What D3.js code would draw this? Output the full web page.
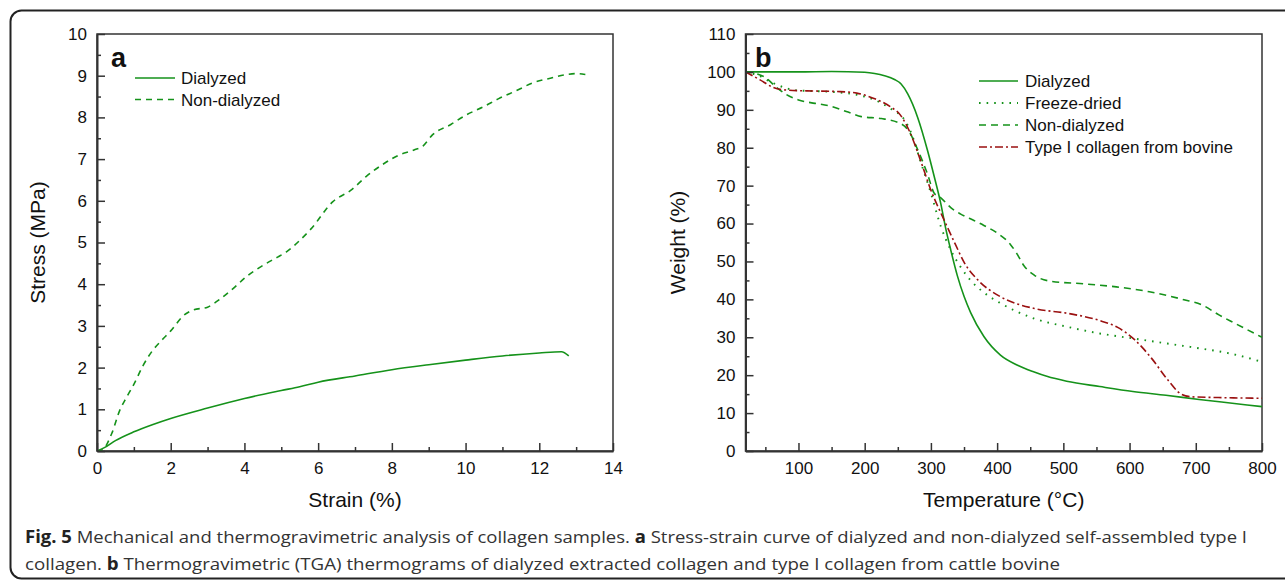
<!DOCTYPE html>
<html>
<head>
<meta charset="utf-8">
<script src="https://cdn.jsdelivr.net/npm/d3@7/dist/d3.min.js"></script>
<style>
  html, body { margin: 0; padding: 0; background: #fff; }
  svg { display: block; }
  .caption { font-family: "Open Sans", "Noto Sans", sans-serif; fill: #333; }
</style>
</head>
<body>
<svg id="fig" width="1285" height="582"></svg>
<script>
// ---- Panel a: stress-strain curves ----
const strainDialyzed = [0, 0.2, 0.5, 1.0, 1.5, 2.0, 3.0, 4.0, 5.0, 5.5, 6.0, 7.0, 8.0, 9.0, 10.0, 11.0, 12.0, 12.6, 12.8];
const stressDialyzed = [0, 0.08, 0.25, 0.46, 0.63, 0.78, 1.03, 1.26, 1.45, 1.54, 1.65, 1.80, 1.95, 2.07, 2.18, 2.28, 2.35, 2.38, 2.28];

const strainNonDialyzed = [0, 0.15, 0.4, 0.62, 0.81, 1.0, 1.25, 1.5, 1.75, 2.0, 2.35, 2.6, 3.0, 3.35, 3.7, 4.05, 4.5, 4.9, 5.15, 5.5, 5.8, 6.4, 6.9, 7.3, 7.8, 8.2, 8.6, 8.85, 9.1, 9.6, 10.0, 10.5, 10.9, 11.4, 11.8, 12.3, 12.75, 13.0, 13.25];
const stressNonDialyzed = [0, 0.03, 0.42, 0.98, 1.3, 1.6, 2.05, 2.4, 2.65, 2.88, 3.25, 3.38, 3.45, 3.65, 3.9, 4.18, 4.45, 4.65, 4.78, 5.05, 5.32, 5.98, 6.26, 6.58, 6.9, 7.1, 7.22, 7.32, 7.58, 7.83, 8.05, 8.26, 8.45, 8.65, 8.82, 8.94, 9.03, 9.05, 9.03];

const strainTicks = [0, 2, 4, 6, 8, 10, 12, 14];
const stressTicks = [0, 1, 2, 3, 4, 5, 6, 7, 8, 9, 10];

// ---- Panel b: TGA thermograms ----
const tempDialyzed = [20, 100, 150, 200, 215, 230, 245, 255, 265, 280, 295, 305, 315, 322, 330, 340, 350, 360, 380, 405, 430, 455, 475, 505, 555, 605, 655, 705, 755, 800];
const weightDialyzed = [100, 100, 100.1, 99.9, 99.6, 99.0, 98.0, 96.8, 94.2, 88.0, 79.2, 72.4, 65.2, 59.0, 53.0, 46.2, 40.8, 36.5, 30.2, 25.3, 22.7, 20.9, 19.7, 18.4, 17.0, 15.7, 14.7, 13.6, 12.6, 11.7];

const tempFreezeDried = [20, 40, 60, 80, 100, 130, 160, 190, 215, 240, 260, 270, 285, 300, 315, 330, 345, 360, 380, 405, 455, 505, 555, 605, 655, 705, 755, 800];
const weightFreezeDried = [100, 99.0, 97.2, 95.8, 95.1, 94.9, 94.6, 93.9, 92.6, 90.2, 87.4, 84.0, 76.0, 68.0, 59.2, 53.0, 48.5, 45.0, 41.8, 39.0, 35.0, 32.8, 31.0, 29.7, 28.4, 27.1, 25.6, 23.5];

const tempNonDialyzed = [20, 35, 50, 65, 80, 100, 125, 145, 175, 195, 225, 255, 268, 280, 295, 305, 315, 330, 345, 365, 380, 400, 420, 430, 440, 456, 480, 530, 580, 630, 680, 710, 735, 760, 800];
const weightNonDialyzed = [100, 99.6, 98.5, 96.2, 94.2, 92.6, 91.7, 91.1, 89.4, 88.2, 87.7, 86.3, 84.0, 79.5, 73.0, 68.0, 66.8, 64.2, 62.5, 60.8, 59.5, 57.5, 54.5, 52.0, 49.0, 46.4, 44.8, 44.1, 43.3, 42.0, 40.0, 38.5, 35.9, 33.6, 30.0];

const tempBovine = [20, 42, 62, 82, 113, 163, 188, 214, 239, 254, 269, 284, 300, 320, 337, 351, 371, 405, 456, 507, 557, 582, 608, 633, 658, 678, 694, 734, 800];
const weightBovine = [100, 97.9, 95.9, 95.2, 95.0, 94.8, 94.4, 93.0, 90.8, 88.6, 83.8, 76.8, 68.8, 60.9, 54.5, 49.5, 45.1, 40.7, 37.6, 36.3, 34.3, 32.6, 29.3, 24.5, 18.7, 15.0, 14.3, 14.1, 13.9];

const tempTicks = [100, 200, 300, 400, 500, 600, 700, 800];
const weightTicks = [0, 10, 20, 30, 40, 50, 60, 70, 80, 90, 100, 110];

const captionLine1 = ["Fig. 5", " Mechanical and thermogravimetric analysis of collagen samples. ", "a", " Stress-strain curve of dialyzed and non-dialyzed self-assembled type I"];
const captionLine2 = ["collagen. ", "b", " Thermogravimetric (TGA) thermograms of dialyzed extracted collagen and type I collagen from cattle bovine"];

const GREEN = "#15921a";
const DARKRED = "#9a1010";
const AXIS = "#333";
const FONT = "'Liberation Sans', Arial, sans-serif";

const svg = d3.select("#fig");

// outer figure border (open to the right)
svg.append("rect")
  .attr("x", 10.5).attr("y", 10.5)
  .attr("width", 1320).attr("height", 568)
  .attr("rx", 11).attr("ry", 11)
  .attr("fill", "none").attr("stroke", "#222").attr("stroke-width", 2);

function zip(xs, ys) { return xs.map((x, i) => ({ x, y: ys[i] })); }

function drawPanel(cfg) {
  const { left, top, right, bottom } = cfg.box;
  const x = d3.scaleLinear().domain(cfg.xDomain).range([left, right]);
  const y = d3.scaleLinear().domain(cfg.yDomain).range([bottom, top]);
  const g = svg.append("g");

  // frame: top and right edges
  g.append("rect")
    .attr("x", left).attr("y", top)
    .attr("width", right - left).attr("height", bottom - top)
    .attr("fill", "none").attr("stroke", AXIS).attr("stroke-width", 1.5);

  // series
  const line = d3.line().x(d => x(d.x)).y(d => y(d.y)).curve(d3.curveMonotoneX);
  cfg.series.forEach(s => {
    g.append("path")
      .datum(zip(s.xs, s.ys))
      .attr("d", line)
      .attr("fill", "none")
      .attr("stroke", s.color)
      .attr("stroke-width", s.width || 1.6)
      .attr("stroke-dasharray", s.dash || null)
      .attr("stroke-linecap", s.cap || "butt");
  });

  // minor ticks
  g.append("g").attr("transform", `translate(0,${bottom})`)
    .call(d3.axisBottom(x).tickValues(cfg.xMinor).tickSize(-4).tickSizeOuter(0).tickFormat(""))
    .call(a => a.select(".domain").remove());
  g.append("g").attr("transform", `translate(${left},0)`)
    .call(d3.axisLeft(y).tickValues(cfg.yMinor).tickSize(-4).tickSizeOuter(0).tickFormat(""))
    .call(a => a.select(".domain").remove());

  // major ticks with labels
  const xa = g.append("g").attr("transform", `translate(0,${bottom})`)
    .call(d3.axisBottom(x).tickValues(cfg.xTicks).tickSize(-8).tickSizeOuter(0).tickPadding(11).tickFormat(d3.format("d")));
  const ya = g.append("g").attr("transform", `translate(${left},0)`)
    .call(d3.axisLeft(y).tickValues(cfg.yTicks).tickSize(-8).tickSizeOuter(0).tickPadding(10).tickFormat(d3.format("d")));

  [xa, ya].forEach(a => {
    a.attr("font-family", FONT).attr("font-size", 17);
    a.selectAll("text").attr("fill", "#111");
  });
  g.selectAll(".tick line").attr("stroke", AXIS).attr("stroke-width", 1.5);
  g.selectAll(".domain").attr("stroke", AXIS).attr("stroke-width", 2);

  // axis titles
  g.append("text")
    .attr("x", (left + right) / 2).attr("y", 507)
    .attr("text-anchor", "middle")
    .attr("font-family", FONT).attr("font-size", 21).attr("fill", "#111")
    .text(cfg.xTitle);
  g.append("text")
    .attr("transform", `translate(${cfg.yTitleX},${(top + bottom) / 2}) rotate(-90)`)
    .attr("text-anchor", "middle")
    .attr("font-family", FONT).attr("font-size", 21).attr("fill", "#111")
    .text(cfg.yTitle);

  // panel letter
  g.append("text")
    .attr("x", cfg.letterX).attr("y", 67)
    .attr("font-family", FONT).attr("font-size", 27).attr("font-weight", "bold").attr("fill", "#111")
    .text(cfg.letter);

  // legend
  cfg.series.forEach((s, i) => {
    const ly = cfg.legend.y + i * cfg.legend.step;
    g.append("line")
      .attr("x1", cfg.legend.x1).attr("x2", cfg.legend.x2)
      .attr("y1", ly).attr("y2", ly)
      .attr("stroke", s.color)
      .attr("stroke-width", s.width || 1.6)
      .attr("stroke-dasharray", s.dash || null)
      .attr("stroke-linecap", s.cap || "butt");
    g.append("text")
      .attr("x", cfg.legend.tx).attr("y", ly + 6)
      .attr("font-family", FONT).attr("font-size", 17).attr("fill", "#111")
      .text(s.name);
  });
}

drawPanel({
  box: { left: 97, top: 34, right: 613, bottom: 451 },
  xDomain: [0, 14], yDomain: [0, 10],
  xTicks: strainTicks, yTicks: stressTicks,
  xMinor: d3.range(1, 14, 2), yMinor: d3.range(0.5, 10, 1),
  xTitle: "Strain (%)", yTitle: "Stress (MPa)", yTitleX: 45,
  letter: "a", letterX: 111,
  legend: { x1: 135, x2: 175, tx: 181, y: 78, step: 21.5 },
  series: [
    { name: "Dialyzed", xs: strainDialyzed, ys: stressDialyzed, color: GREEN },
    { name: "Non-dialyzed", xs: strainNonDialyzed, ys: stressNonDialyzed, color: GREEN, dash: "6,5" }
  ]
});

drawPanel({
  box: { left: 745.5, top: 34, right: 1262, bottom: 451 },
  xDomain: [20, 800], yDomain: [0, 110],
  xTicks: tempTicks, yTicks: weightTicks,
  xMinor: d3.range(50, 800, 100), yMinor: d3.range(5, 110, 10),
  xTitle: "Temperature (°C)", yTitle: "Weight (%)", yTitleX: 685,
  letter: "b", letterX: 755,
  legend: { x1: 979, x2: 1018, tx: 1025, y: 81, step: 22 },
  series: [
    { name: "Dialyzed", xs: tempDialyzed, ys: weightDialyzed, color: GREEN },
    { name: "Freeze-dried", xs: tempFreezeDried, ys: weightFreezeDried, color: GREEN, dash: "1.6,6", width: 1.9 },
    { name: "Non-dialyzed", xs: tempNonDialyzed, ys: weightNonDialyzed, color: GREEN, dash: "7,5" },
    { name: "Type I collagen from bovine", xs: tempBovine, ys: weightBovine, color: DARKRED, dash: "8,3,2,3" }
  ]
});

// caption
function captionLine(parts, y, width) {
  const t = svg.append("text")
    .attr("class", "caption")
    .attr("x", 25).attr("y", y)
    .attr("font-size", 17)
    .attr("textLength", width)
    .attr("lengthAdjust", "spacingAndGlyphs");
  parts.forEach((p, i) => {
    const bold = (parts.length === 4 && (i === 0 || i === 2)) || (parts.length === 3 && i === 1);
    t.append("tspan")
      .attr("font-weight", bold ? "bold" : null)
      .attr("fill", bold ? "#222" : null)
      .attr("xml:space", "preserve")
      .text(p);
  });
}
captionLine(captionLine1, 543, 1222);
captionLine(captionLine2, 570, 1035);
</script>
</body>
</html>
